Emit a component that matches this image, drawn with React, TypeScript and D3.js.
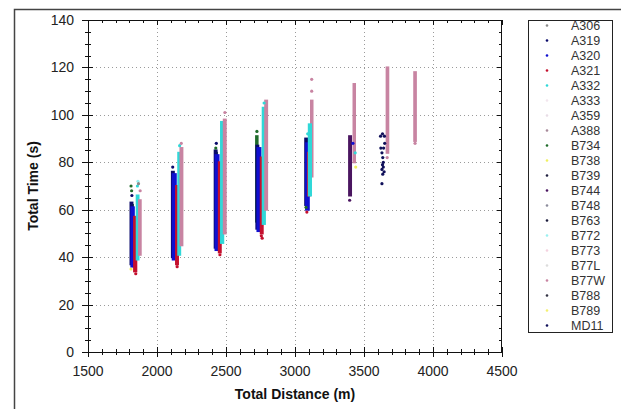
import { useEffect, useRef } from 'react'
import * as d3 from 'd3'

const TYPES = ['A306', 'A319', 'A320', 'A321', 'A332', 'A333', 'A359', 'A388', 'B734', 'B738', 'B739',
  'B744', 'B748', 'B763', 'B772', 'B773', 'B77L', 'B77W', 'B788', 'B789', 'MD11']
const COLORS = ['#8a8a8a', '#0a0a6a', '#1010d0', '#c4102e', '#30d8d8', '#f2e6ee', '#e8dde6', '#a88a9a',
  '#1f6b2a', '#f0f060', '#202040', '#4a1560', '#8c8c9c', '#1a1a3a', '#9af0f0', '#f4d2e0', '#dcdcdc',
  '#c884a2', '#333344', '#f4f070', '#10105a']

const X_TICKS = [1500, 2000, 2500, 3000, 3500, 4000, 4500]
const Y_TICKS = [0, 20, 40, 60, 80, 100, 120, 140]

// dense columns: [type, distLo, distHi, timeLo, timeHi]
const RANGES: [string, number, number, number, number][] = [
  ['B734', 1815, 1824, 38, 62], ['A319', 1808, 1822, 37, 63], ['A320', 1814, 1832, 36, 61],
  ['A321', 1834, 1850, 34, 57], ['A332', 1853, 1866, 39, 66], ['B77W', 1870, 1882, 41, 64],
  ['B734', 2114, 2122, 42, 74], ['A319', 2108, 2122, 40, 76], ['A320', 2114, 2136, 39, 75],
  ['A321', 2138, 2152, 37, 70], ['A332', 2154, 2168, 41, 84], ['B77W', 2170, 2184, 45, 86],
  ['B734', 2424, 2432, 46, 84], ['A319', 2418, 2432, 44, 85], ['A320', 2424, 2446, 43, 83],
  ['A321', 2448, 2462, 42, 80], ['A332', 2464, 2480, 46, 97], ['B77W', 2484, 2498, 50, 98],
  ['B734', 2718, 2728, 55, 91], ['A319', 2720, 2734, 52, 87], ['A320', 2728, 2750, 51, 86],
  ['A321', 2752, 2766, 50, 82], ['A332', 2766, 2782, 54, 103], ['B77W', 2784, 2798, 60, 106],
  ['B77W', 3116, 3126, 74, 106], ['A319', 3074, 3090, 62, 90], ['A320', 3080, 3100, 60, 88],
  ['A321', 3094, 3106, 66, 84], ['A332', 3100, 3116, 66, 96],
  ['B77W', 3424, 3434, 80, 113], ['B744', 3392, 3406, 66, 91],
  ['B77W', 3664, 3676, 84, 120],
  ['B77W', 3864, 3876, 89, 118],
]

// scattered points: [type, dist, time]
const POINTS: [string, number, number][] = [
  ['B734', 1816, 68], ['B734', 1812, 70], ['A332', 1858, 70], ['B772', 1862, 72], ['A319', 1818, 66],
  ['B77W', 1878, 68], ['A321', 1846, 33], ['B738', 1812, 35], ['A306', 1866, 71],
  ['A332', 2164, 87], ['B77W', 2176, 88], ['A321', 2146, 36], ['A319', 2114, 78],
  ['B734', 2426, 86], ['A321', 2456, 41], ['B77W', 2492, 101], ['A319', 2430, 88],
  ['A332', 2776, 105], ['A321', 2756, 49], ['A321', 2762, 48], ['B734', 2724, 93],
  ['B77W', 3121, 110], ['B77W', 3121, 115], ['A321', 3086, 59], ['B734', 3080, 61], ['A332', 3092, 92],
  ['A320', 3420, 88], ['B738', 3440, 78], ['B744', 3396, 64], ['A332', 3436, 84],
  ['MD11', 3620, 91], ['MD11', 3634, 92], ['MD11', 3648, 91], ['MD11', 3622, 86], ['MD11', 3642, 86],
  ['MD11', 3630, 84], ['MD11', 3636, 82], ['MD11', 3640, 80], ['MD11', 3634, 79], ['MD11', 3630, 77],
  ['MD11', 3640, 78], ['MD11', 3646, 76], ['MD11', 3636, 75], ['MD11', 3630, 71], ['MD11', 3650, 88],
  ['B77W', 3870, 88], ['B77W', 3668, 82],
]

export default function App() {
  const svgRef = useRef<SVGSVGElement>(null)

  useEffect(() => {
    const W = 621
    const H = 409
    const left = 88, right = 502, top = 20, bottom = 352
    const color = (t: string) => COLORS[TYPES.indexOf(t)]

    const x = d3.scaleLinear().domain([1500, 4500]).range([left, right])
    const y = d3.scaleLinear().domain([0, 140]).range([bottom, top])

    const svg = d3.select(svgRef.current)
    svg.selectAll('*').remove()
    svg.attr('width', W).attr('height', H)
    const font = 'Liberation Sans, Arial, sans-serif'

    svg.append('rect').attr('width', W).attr('height', H).attr('fill', '#fff')

    // outer frame (left and top edges visible)
    svg.append('path')
      .attr('d', `M14.5,${H}V9.5H${W}`)
      .attr('fill', 'none').attr('stroke', '#444').attr('stroke-width', 1.5)

    // grid
    const grid = svg.append('g').attr('stroke', '#9a9a9a').attr('stroke-dasharray', '1,3')
    Y_TICKS.slice(1, -1).forEach((t) => {
      grid.append('line').attr('x1', left).attr('x2', right)
        .attr('y1', Math.round(y(t)) + 0.5).attr('y2', Math.round(y(t)) + 0.5)
    })
    X_TICKS.slice(1, -1).forEach((t) => {
      grid.append('line').attr('y1', top).attr('y2', bottom)
        .attr('x1', Math.round(x(t)) + 0.5).attr('x2', Math.round(x(t)) + 0.5)
    })

    // data columns (marker size widens each column a little)
    const data = svg.append('g')
    RANGES.forEach(([t, d0, d1, t0, t1]) => {
      data.append('rect')
        .attr('x', x(d0)).attr('width', Math.max(1.5, x(d1) - x(d0)))
        .attr('y', y(t1)).attr('height', y(t0) - y(t1))
        .attr('fill', color(t)).attr('stroke', color(t)).attr('stroke-width', 2)
    })
    POINTS.forEach(([t, d, v]) => {
      data.append('circle').attr('cx', x(d)).attr('cy', y(v)).attr('r', 1.6).attr('fill', color(t))
    })

    // axes frame with crossing ticks
    const ax = svg.append('g').attr('stroke', '#111').attr('stroke-width', 1)
    ax.append('rect').attr('x', left + 0.5).attr('y', top + 0.5)
      .attr('width', right - left - 1).attr('height', bottom - top).attr('fill', 'none')
    d3.range(0, 141, 5).forEach((t) => {
      const yy = Math.round(y(t)) + 0.5
      const major = t % 20 === 0
      ax.append('line').attr('x1', left - (major ? 6 : 3)).attr('x2', left + (major ? 5 : 3))
        .attr('y1', yy).attr('y2', yy)
      ax.append('line').attr('x1', right - (major ? 5 : 3)).attr('x2', right).attr('y1', yy).attr('y2', yy)
    })
    d3.range(1500, 4501, 100).forEach((t) => {
      const xx = Math.round(x(t)) + 0.5
      const major = t % 500 === 0
      ax.append('line').attr('x1', xx).attr('x2', xx)
        .attr('y1', bottom - (major ? 5 : 3)).attr('y2', bottom + (major ? 5 : 3))
      ax.append('line').attr('x1', xx).attr('x2', xx).attr('y1', top).attr('y2', top + (major ? 5 : 3))
    })

    // tick labels
    Y_TICKS.forEach((t) => {
      svg.append('text').attr('x', 74).attr('y', y(t) + 5)
        .attr('text-anchor', 'end').attr('font-family', font).attr('font-size', 14).attr('fill', '#222')
        .text(t)
    })
    X_TICKS.forEach((t) => {
      svg.append('text').attr('x', x(t)).attr('y', 376)
        .attr('text-anchor', 'middle').attr('font-family', font).attr('font-size', 14).attr('fill', '#222')
        .text(t)
    })

    svg.append('text').attr('x', 295).attr('y', 399)
      .attr('text-anchor', 'middle').attr('font-family', font).attr('font-size', 14)
      .attr('font-weight', 'bold').attr('fill', '#111').text('Total Distance (m)')
    svg.append('text')
      .attr('transform', `translate(38,${(top + bottom) / 2}) rotate(-90)`)
      .attr('text-anchor', 'middle').attr('font-family', font).attr('font-size', 14)
      .attr('font-weight', 'bold').attr('fill', '#111').text('Total Time (s)')

    // legend
    const lg = svg.append('g')
    lg.append('rect').attr('x', 528.5).attr('y', 20.5).attr('width', 84).attr('height', 312)
      .attr('fill', '#fff').attr('stroke', '#222')
    TYPES.forEach((t, i) => {
      const cy = 25 + i * 15
      lg.append('circle').attr('cx', 547).attr('cy', cy + 0.5).attr('r', 1.3).attr('fill', COLORS[i])
      lg.append('text').attr('x', 571).attr('y', cy + 4.5)
        .attr('font-family', font).attr('font-size', 12.5).attr('fill', '#333').text(t)
    })
  }, [])

  return (
    <div style={{ position: 'absolute', left: 0, top: 0 }}>
      <svg ref={svgRef} style={{ display: 'block' }} />
    </div>
  )
}
